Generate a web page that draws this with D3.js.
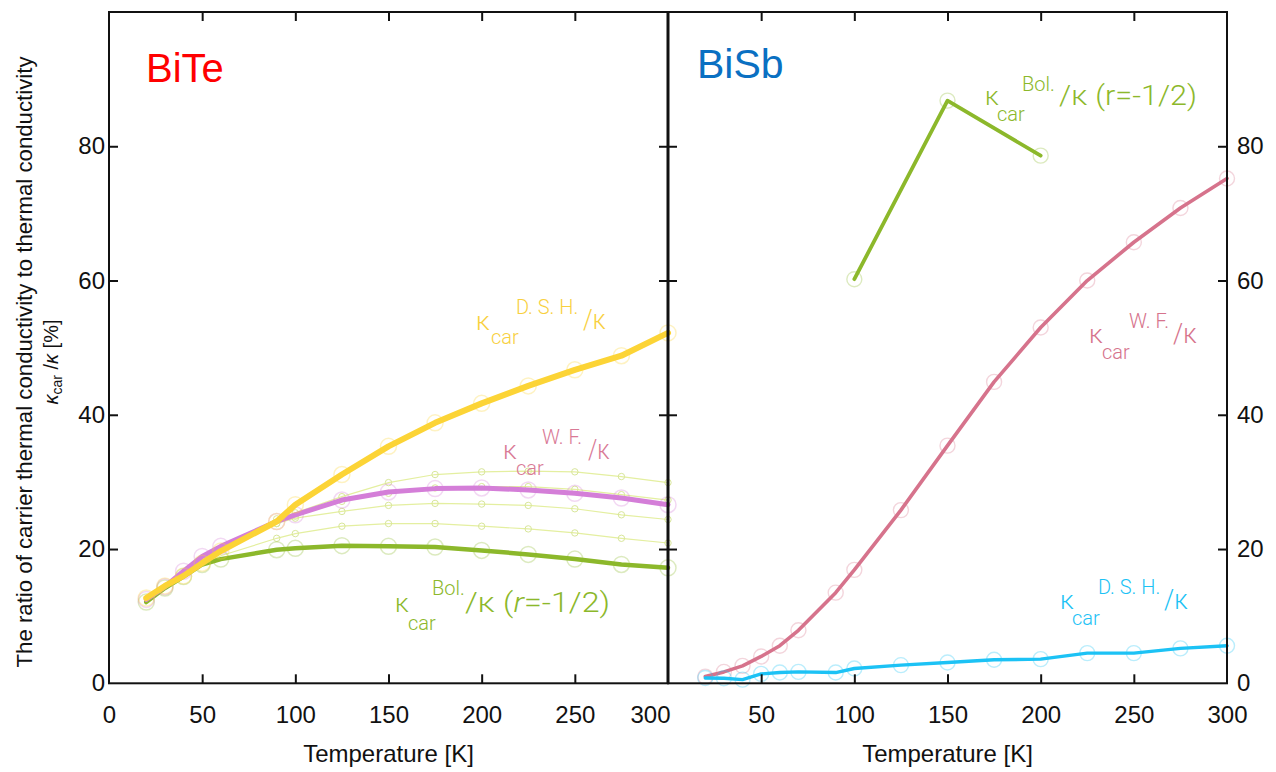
<!DOCTYPE html>
<html><head><meta charset="utf-8">
<script src="https://cdn.jsdelivr.net/npm/d3@7"></script>
<style>body{margin:0;background:#fff}svg{display:block}</style>
</head><body><svg id="c" width="1276" height="772"></svg>
<script>
// ---- data ----
const xTicks = [0, 50, 100, 150, 200, 250, 300];
const yTicks = [0, 20, 40, 60, 80];
const biteTemps = [20, 30, 40, 50, 60, 90, 100, 125, 150, 175, 200, 225, 250, 275, 300];
const biteDSH = [12.7, 14.5, 16.0, 17.9, 19.7, 24.1, 26.6, 31.1, 35.3, 38.8, 41.7, 44.3, 46.7, 48.8, 52.2];
const biteWF  = [12.5, 14.4, 16.7, 18.9, 20.4, 24.1, 25.1, 27.3, 28.5, 29.0, 29.1, 28.8, 28.3, 27.6, 26.6];
const biteBol = [12.1, 14.2, 15.9, 17.7, 18.5, 19.9, 20.1, 20.5, 20.4, 20.3, 19.8, 19.2, 18.5, 17.7, 17.2];
const biteFaint1 = [12.5, 14.5, 16.4, 18.5, 20.2, 24.5, 25.4, 27.8, 29.9, 31.1, 31.5, 31.6, 31.5, 30.8, 29.9];
const biteFaint2 = [12.5, 14.4, 16.4, 18.4, 20.0, 23.8, 24.9, 27.1, 28.3, 29.1, 29.3, 29.3, 28.9, 28.1, 27.3];
const biteFaint3 = [12.4, 14.3, 16.2, 18.0, 19.5, 23.8, 24.6, 25.6, 26.5, 26.8, 26.7, 26.5, 26.0, 25.1, 24.4];
const biteFaint4 = [12.3, 14.2, 15.9, 17.6, 19.0, 21.6, 22.3, 23.4, 23.8, 23.8, 23.4, 23.0, 22.4, 21.6, 20.9];
const bisbTemps = [20, 30, 40, 50, 60, 70, 90, 100, 125, 150, 175, 200, 225, 250, 275, 300];
const bisbWF  = [1.0, 1.7, 2.6, 4.0, 5.6, 7.9, 13.5, 16.9, 25.8, 35.4, 44.9, 53.0, 60.0, 65.7, 70.8, 75.2];
const bisbDSH = [0.8, 0.75, 0.55, 1.4, 1.6, 1.7, 1.6, 2.2, 2.7, 3.1, 3.5, 3.6, 4.5, 4.5, 5.2, 5.6];
const bisbBolTemps = [100, 150, 200];
const bisbBol = [60.2, 86.8, 78.6];

// ---- layout ----
const svg = d3.select("#c");
const xL = d3.scaleLinear([0, 300], [109, 668]);
const xR = d3.scaleLinear([0, 300], [668, 1227]);
const y = d3.scaleLinear([0, 100], [683.3, 12]);
const AX = "'Liberation Sans', Arial, sans-serif";
const LF = "Roboto, 'Liberation Sans', sans-serif";

const zip = (t, v) => t.map((d, i) => [d, v[i]]);

function series(x, t, v, color, width, r, mOpacity, mWidth) {
  const pts = zip(t, v);
  const line = d3.line().x(d => x(d[0])).y(d => y(d[1]));
  const g = svg.append("g");
  g.selectAll("circle").data(pts).join("circle")
    .attr("cx", d => x(d[0])).attr("cy", d => y(d[1])).attr("r", r)
    .attr("fill", "none").attr("stroke", color).attr("stroke-opacity", mOpacity)
    .attr("stroke-width", mWidth);
  g.append("path").datum(pts).attr("d", line).attr("fill", "none")
    .attr("stroke", color).attr("stroke-width", width)
    .attr("stroke-linejoin", "round").attr("stroke-linecap", "round");
}

// faint lines (BiTe)
const faintColor = "#e4efa0";
[biteFaint1, biteFaint2, biteFaint3, biteFaint4].forEach(v => {
  const pts = zip(biteTemps, v);
  svg.append("path").datum(pts)
    .attr("d", d3.line().x(d => xL(d[0])).y(d => y(d[1])))
    .attr("fill", "none").attr("stroke", faintColor).attr("stroke-width", 1.2);
  svg.append("g").selectAll("circle").data(pts.filter(d => d[0] >= 90)).join("circle")
    .attr("cx", d => xL(d[0])).attr("cy", d => y(d[1])).attr("r", 3.2)
    .attr("fill", "none").attr("stroke", "#d8e69a").attr("stroke-width", 1);
});

// main series
series(xL, biteTemps, biteBol, "#8cb82b", 4.5, 8, 0.3, 1.5);
series(xL, biteTemps, biteWF, "#d47ed8", 5, 8, 0.3, 1.5);
series(xL, biteTemps, biteDSH, "#fcd436", 6, 8, 0.3, 1.5);
series(xR, bisbTemps, bisbWF, "#d6738c", 3.6, 7.5, 0.3, 1.4);
series(xR, bisbTemps, bisbDSH, "#1cc2f5", 3.4, 7.5, 0.3, 1.4);
series(xR, bisbBolTemps, bisbBol, "#8cb82b", 3.8, 7.5, 0.3, 1.4);

// ---- frames ----
svg.append("rect").attr("x", xL(0)).attr("y", y(100)).attr("width", xL(300) - xL(0))
  .attr("height", y(0) - y(100)).attr("fill", "none").attr("stroke", "#111").attr("stroke-width", 2);
svg.append("rect").attr("x", xR(0)).attr("y", y(100)).attr("width", xR(300) - xR(0))
  .attr("height", y(0) - y(100)).attr("fill", "none").attr("stroke", "#111").attr("stroke-width", 2);
svg.append("line").attr("x1", xL(300)).attr("x2", xL(300)).attr("y1", y(100)).attr("y2", y(0))
  .attr("stroke", "#111").attr("stroke-width", 3);

// ---- axes ----
function styleAxis(g) {
  g.select(".domain").remove();
  g.selectAll("line").attr("stroke", "#111").attr("stroke-width", 2);
  g.selectAll("text").attr("font-family", AX).attr("font-size", 24).attr("fill", "#111");
}
const inner = [50, 100, 150, 200, 250];
// left panel bottom
svg.append("g").attr("transform", `translate(0,${y(0)})`)
  .call(d3.axisBottom(xL).tickValues(xTicks).tickSize(-9).tickPadding(23).tickSizeOuter(0))
  .call(styleAxis)
  .call(g => g.selectAll(".tick").filter(d => d === 0 || d === 300).select("line").remove())
  .call(g => g.selectAll(".tick").filter(d => d === 300).select("text").attr("dx", -18));
// right panel bottom
svg.append("g").attr("transform", `translate(0,${y(0)})`)
  .call(d3.axisBottom(xR).tickValues(xTicks.slice(1)).tickSize(-9).tickPadding(23).tickSizeOuter(0))
  .call(styleAxis)
  .call(g => g.selectAll(".tick").filter(d => d === 300).select("line").remove());
// top ticks
[xL, xR].forEach(x => {
  svg.append("g").attr("transform", `translate(0,${y(100)})`)
    .call(d3.axisTop(x).tickValues(inner).tickSize(-9).tickFormat(""))
    .call(styleAxis);
});
// left y axis
svg.append("g").attr("transform", `translate(${xL(0)},0)`)
  .call(d3.axisLeft(y).tickValues(yTicks).tickSize(-9).tickPadding(4).tickSizeOuter(0))
  .call(styleAxis)
  .call(g => g.selectAll(".tick").filter(d => d === 0).select("line").remove());
// right y axis
svg.append("g").attr("transform", `translate(${xR(300)},0)`)
  .call(d3.axisRight(y).tickValues(yTicks).tickSize(-9).tickPadding(10).tickSizeOuter(0))
  .call(styleAxis)
  .call(g => g.selectAll(".tick").filter(d => d === 0).select("line").remove());
// ticks at divider (both sides)
svg.append("g").attr("transform", `translate(${xL(300)},0)`)
  .call(d3.axisRight(y).tickValues(yTicks.slice(1)).tickSize(-9).tickFormat(""))
  .call(styleAxis);
svg.append("g").attr("transform", `translate(${xR(0)},0)`)
  .call(d3.axisLeft(y).tickValues(yTicks.slice(1)).tickSize(-9).tickFormat(""))
  .call(styleAxis);

// axis titles
[[xL, "Temperature [K]"], [xR, "Temperature [K]"]].forEach(([x, t]) => {
  svg.append("text").attr("x", (x(0) + x(300)) / 2).attr("y", 762)
    .attr("text-anchor", "middle").attr("font-family", AX).attr("font-size", 24)
    .attr("fill", "#111").text(t);
});
svg.append("text").attr("transform", "translate(32,362) rotate(-90)")
  .attr("text-anchor", "middle").attr("font-family", AX).attr("font-size", 22)
  .attr("fill", "#111").attr("textLength", 611).attr("lengthAdjust", "spacingAndGlyphs")
  .text("The ratio of carrier thermal conductivity to thermal conductivity");
const yt = svg.append("text").attr("transform", "translate(58,362) rotate(-90)")
  .attr("text-anchor", "middle").attr("font-family", AX).attr("font-size", 20).attr("fill", "#111");
yt.append("tspan").attr("font-style", "italic").text("κ");
yt.append("tspan").attr("font-size", 14).attr("dy", 4).text("car");
yt.append("tspan").attr("dy", -4).text(" /");
yt.append("tspan").attr("font-style", "italic").text("κ");
yt.append("tspan").text(" [%]");

// panel titles
svg.append("text").attr("x", 146).attr("y", 82).attr("font-family", AX).attr("font-size", 40)
  .attr("fill", "#ff0000").text("BiTe");
svg.append("text").attr("x", 697).attr("y", 78).attr("font-family", AX).attr("font-size", 41)
  .attr("fill", "#0a70c2").text("BiSb");

// legend labels
function label(color, k, sub, sup, rest, restW, italicR) {
  const base = {"font-family": LF, "font-weight": 300, fill: color};
  const t = (x, yy, size, txt) => {
    const e = svg.append("text").attr("x", x).attr("y", yy).attr("font-size", size);
    Object.entries(base).forEach(([a, b]) => e.attr(a, b));
    if (txt !== null) e.text(txt);
    return e;
  };
  t(k[0], k[1], 26, "κ");
  t(sub[0], sub[1], 20, "car");
  t(sup[0], sup[1], 20, sup[2]);
  const r = t(rest[0], rest[1], 28, null).attr("textLength", restW).attr("lengthAdjust", "spacingAndGlyphs");
  if (italicR) {
    r.append("tspan").text("/κ (");
    r.append("tspan").attr("font-style", "italic").text("r");
    r.append("tspan").text("=-1/2)");
  } else r.text(rest[2]);
}
label("#f8d03e", [476, 330], [491, 344], [516, 314, "D. S. H."], [583, 329, "/κ"], 23);
label("#d97a96", [503, 459], [516, 475], [542, 444, "W. F."], [588, 459, "/κ"], 22);
label("#8cb82b", [395, 612], [408, 630], [432, 595, "Bol."], [465, 612, ""], 145, true);
label("#8cb82b", [985, 105], [997, 121], [1022, 91, "Bol."], [1059, 105, "/κ (r=-1/2)"], 138);
label("#d6738c", [1089, 343], [1102, 359], [1129, 328, "W. F."], [1173, 343, "/κ"], 24);
label("#1cc2f5", [1060, 609], [1072, 625], [1098, 594, "D. S. H."], [1164, 609, "/κ"], 24);
</script></body></html>
